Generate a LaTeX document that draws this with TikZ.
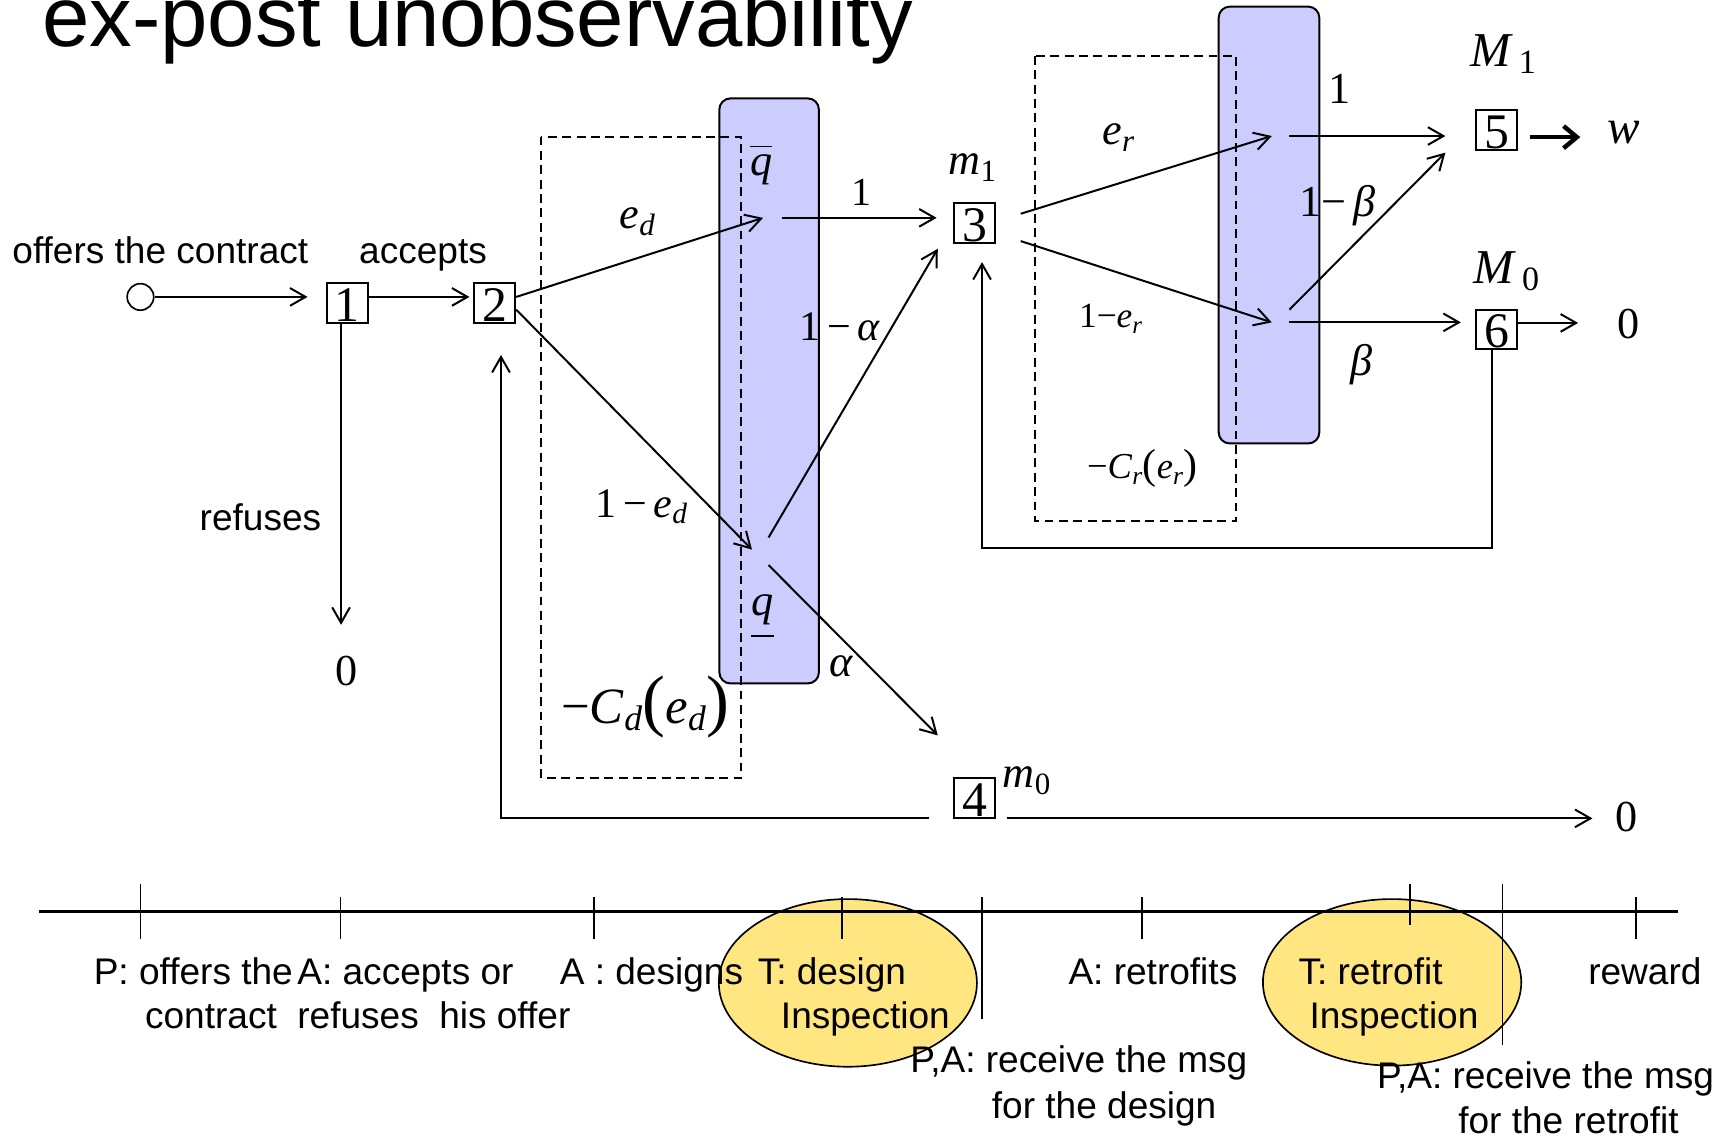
\RequirePackage{fix-cm}
\documentclass[tikz,border=0pt]{standalone}
\usepackage{amsmath}
\usepackage{fontspec}
\setmainfont{Liberation Serif}
\setsansfont{Liberation Sans}
\usetikzlibrary{arrows.meta,calc}
\definecolor{lav}{HTML}{CCCCFF}
\definecolor{yel}{HTML}{FFE680}
\newcommand\fs[1]{\fontsize{#1}{#1}\selectfont}
\newcommand\fsb[2]{\fontsize{#1}{#2}\selectfont}
\newcommand\twol[2]{\begin{tabular}[t]{@{}l@{}}#1\\#2\end{tabular}}
\newcommand\ovq{\vbox{\hrule height 1.5pt\kern 7pt\hbox{\textit{q}}}}
\newcommand\unq{\vtop{\hbox{\textit{q}}\kern 9pt\hrule height 1.5pt}}
\begin{document}
\begin{tikzpicture}[x=1pt,y=-1pt,
  arr/.style={-{Straight Barb[length=14pt,width=16pt]},line width=1.8pt},
  boldarr/.style={-{Straight Barb[length=12pt,width=20pt]},line width=4pt},
  sqbox/.style={draw,line width=1.8pt,minimum width=37pt,minimum height=36pt,inner sep=0pt,text height=34.5pt,text depth=1.5pt,font=\fs{45}},
  lab/.style={inner sep=0pt,anchor=base},
  sanst/.style={inner sep=0pt,anchor=base west,font=\sffamily\fsb{33.5}{40}},
  lavbox/.style={draw,fill=lav,line width=1.8pt,rounded corners=10pt},
  dbox/.style={draw,dash pattern=on 8pt off 5pt,line width=1.8pt},
  tickln/.style={line width=1.6pt},
]
\useasboundingbox (0,0) rectangle (1568,1027);
\node[anchor=base west,inner sep=0pt,font=\sffamily\fs{77}] (title) at (38,42) {ex-post unobservability};

% shaded information sets and dashed effort boxes
\draw[lavbox] (650.5,89) rectangle (740.5,618);
\draw[lavbox] (1102,6) rectangle (1193,401);
\draw[dbox] (489.5,123.5) rectangle (670.5,703.5);
\draw[dbox] (936,50.6) rectangle (1118,471);

% decision nodes
\node[circle,draw,line width=1.5pt,minimum size=24pt,inner sep=0pt] (start) at (127,268.5) {};
\node[sqbox] (b1) at (314,274) {1};
\node[sqbox] (b2) at (447.4,274) {2};
\node[sqbox] (b3) at (881.5,202) {3};
\node[sqbox] (b4) at (881.5,721.5) {4};
\node[sqbox] (b5) at (1353.5,117.5) {5};
\node[sqbox] (b6) at (1353.5,298) {6};

% labels
\node[lab,font=\sffamily\fs{33.5}] (loffer) at (145,238) {offers the contract};
\node[lab,font=\sffamily\fs{33.5}] (lacc) at (382.5,238) {accepts};
\node[lab,font=\sffamily\fs{33.5}] (lref) at (235.5,480) {refuses};
\node[lab,font=\fs{40}] (zero1) at (313.5,619.5) {0};
\node[lab,font=\fs{40}] (qbar) at (688.5,159) {\ovq};
\node[lab,font=\fs{40}] (qund) at (689.5,557) {\unq};
\node[lab,font=\fs{40}] (led) at (576.5,207) {\textit{e}$_{\textit{d}}$};
\node[lab,font=\fs{36}] (lone1) at (779,186) {1};
\node[lab,font=\fs{38}] (loma) at (759.5,308) {1\,−\,\textit{α}};
\node[lab,font=\fs{38}] (lomed) at (580,468) {1\,−\,\textit{e}$_{\textit{d}}$};
\node[lab,font=\fs{40}] (lal) at (761,612) {\textit{α}};
\node[lab,font=\fs{46}] (lcd) at (583.5,654) {−\textit{C}$_{\textit{d}}${\fs{62}(}\textit{e}$_{\textit{d}}${\fs{62})}};
\node[lab,font=\fs{40}] (lm1) at (879.5,158) {\textit{m}$_{\text{1}}$};
\node[lab,font=\fs{40}] (lm0) at (928.5,712.5) {\textit{m}$_{\text{0}}$};
\node[lab,font=\fs{40}] (ler) at (1011.5,131) {\textit{e}$_{\textit{r}}$};
\node[lab,font=\fs{40}] (lone2) at (1211.5,94) {1};
\node[lab,font=\fs{40}] (lomb) at (1209.5,196) {1−\,\textit{β}};
\node[lab,font=\fs{32}] (lomer) at (1004.5,296.5) {1−\textit{e}$_{\textit{r}}$};
\node[lab,font=\fs{40}] (lbeta) at (1231,340) {\textit{β}};
\node[lab,font=\fs{33}] (lcr) at (1033,433) {−\textit{C}$_{\textit{r}}${\fs{38}(}\textit{e}$_{\textit{r}}${\fs{38})}};
\node[lab,font=\fs{44}] (lM1) at (1359.5,60.3) {\textit{M}$_{\,\text{1}}$};
\node[lab,font=\fs{44}] (lM0) at (1362.5,256) {\textit{M}$_{\,\text{0}}$};
\node[lab,font=\fs{44}] (lw) at (1468.5,130) {\textit{w}};
\node[lab,font=\fs{40}] (zero2) at (1472.5,306) {0};
\node[lab,font=\fs{40}] (zero3) at (1471,752) {0};

% free ends of connectors
\coordinate (z1top) at (308.4,565);
\coordinate (edtip) at (690,197);
\coordinate (qhi) at (707,197);
\coordinate (b3in) at (847,197);
\coordinate (ldtip) at (680,497);
\coordinate (qlo1) at (695,486);
\coordinate (b3in2) at (848,225);
\coordinate (qlo2) at (695,511);
\coordinate (atip) at (848,665);
\coordinate (b3o1) at (923,193.3);
\coordinate (b3o2) at (923,218);
\coordinate (ertip) at (1150,123);
\coordinate (nertip) at (1150,291.5);
\coordinate (rhi) at (1166,123);
\coordinate (b5in) at (1307,123);
\coordinate (rlo1) at (1166,280);
\coordinate (b5in2) at (1307,138);
\coordinate (rlo2) at (1166,291.5);
\coordinate (b6in) at (1321,291.5);
\coordinate (wtip) at (1429,124);
\coordinate (z2tip) at (1427,292);
\coordinate (fb1) at (888,237);
\coordinate (fb2) at (453,321);
\coordinate (b4l) at (840,740);
\coordinate (b4r) at (911,740);
\coordinate (z3tip) at (1440,740);

% connectors
\draw[arr,shorten >=16.5pt] (start) -- (start -| b1.west);
\draw[arr,shorten >=3.5pt] ([yshift=5.5pt]b1.east) -- ([yshift=5.5pt]b2.west);
\draw[arr] ([xshift=-5.6pt]b1.south) -- (z1top);
\draw[arr] ([yshift=5.5pt]b2.east) -- (edtip);
\draw[arr] ([yshift=-6pt]b2.east) -- (ldtip);
\draw[arr] (qhi) -- (b3in);
\draw[arr] (qlo1) -- (b3in2);
\draw[arr] (qlo2) -- (atip);
\draw[arr] (b3o1) -- (ertip);
\draw[arr] (b3o2) -- (nertip);
\draw[arr] (rhi) -- (b5in);
\draw[arr] (rlo1) -- (b5in2);
\draw[arr] (rlo2) -- (b6in);
\draw[boldarr,shorten <=11pt] ([yshift=-6.5pt]b5.east) -- (wtip);
\draw[arr] ([yshift=6pt]b6.east) -- (z2tip);
\draw[arr] ([xshift=-4.5pt]b6.south) -- ++(0,179) -| (fb1);
\draw[arr] (b4l) -| (fb2);
\draw[arr] (b4r) -- (z3tip);

% timeline
\draw[fill=yel,line width=1.5pt] (766.7,888.8) ellipse [x radius=116.7pt,y radius=75.8pt];
\draw[fill=yel,line width=1.5pt] (1258.8,888.3) ellipse [x radius=116.8pt,y radius=75.3pt];
\coordinate (tl0) at (35.3,824.5);
\coordinate (tl1) at (1517,824.5);
\draw[line width=2.4pt] (tl0) -- (tl1);
\foreach \x/\a/\b in {127/799.5/849, 308/811/849, 537/811/849, 761.5/811/849, 888/811/921.4, 1033/811/849, 1275/799.4/836.5, 1358.7/799.4/945, 1479.5/811/849}
  \draw[tickln] (\x,\a) -- (\x,\b);

\node[sanst] (tP) at (84.6,890) {\twol{P: offers the}{\hspace*{46.4pt}contract}};
\node[sanst] (tA) at (268.7,890) {\twol{A: accepts or}{refuses}};
\node[sanst] (tD) at (397,890) {\twol{\hspace*{109pt}A : designs}{his offer}};
\node[sanst] (tT1) at (685,890) {\twol{T: design}{\hspace*{21pt}Inspection}};
\node[sanst] (tR) at (966,890) {A: retrofits};
\node[sanst] (tT2) at (1174,890) {\twol{T: retrofit}{\hspace*{10pt}Inspection}};
\node[sanst] (tW) at (1436,890) {reward};
\node[sanst,font=\sffamily\fsb{33.5}{41}] (tM1) at (823,970) {\twol{P,A: receive the msg}{\hspace*{73.7pt}for the design}};
\node[sanst,font=\sffamily\fsb{33.5}{41}] (tM2) at (1245,984) {\twol{P,A: receive the msg}{\hspace*{73.5pt}for the retrofit}};
\end{tikzpicture}
\end{document}
